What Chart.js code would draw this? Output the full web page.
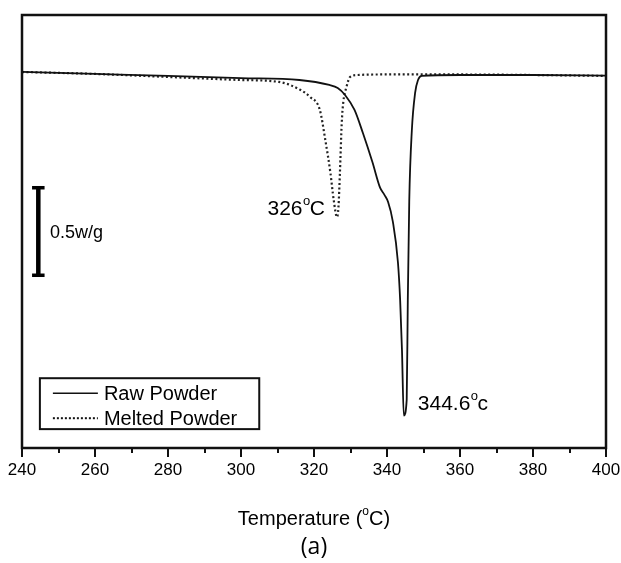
<!DOCTYPE html>
<html>
<head>
<meta charset="utf-8">
<script src="https://cdn.jsdelivr.net/npm/chart.js@4.4.1/dist/chart.umd.min.js"></script>
<style>
  html, body { margin: 0; padding: 0; background: #ffffff; }
  #wrap { width: 621px; height: 563px; position: relative; }
</style>
</head>
<body>
<div id="wrap"><canvas id="c" width="621" height="563"></canvas></div>
<script>
// ---- Data (heat flow in W/g relative to baseline, endo down) ----
const rawTemps = [240, 260, 280, 300, 316, 324.2, 326.5, 328.5, 331.1, 333.4, 336, 338.1, 339.3, 340.3, 341.6, 343.0, 343.6, 344.1, 344.6, 345.4, 345.7, 346.1, 346.8, 347.7, 348.5, 349.5, 360, 380, 400];
const rawHeat  = [0, -0.011, -0.022, -0.034, -0.045, -0.073, -0.09, -0.129, -0.213, -0.343, -0.506, -0.65, -0.69, -0.73, -0.84, -1.07, -1.28, -1.56, -1.93, -1.84, -1.28, -0.72, -0.33, -0.118, -0.045, -0.022, -0.017, -0.017, -0.02];

const meltTemps = [240, 260, 280, 300, 310.4, 316.2, 318.9, 321.6, 323.1, 324.5, 325.4, 326.3, 326.7, 327.1, 327.6, 328.0, 328.9, 329.9, 332, 340, 360, 380, 400];
const meltHeat  = [0, -0.011, -0.028, -0.045, -0.056, -0.1, -0.14, -0.213, -0.382, -0.567, -0.719, -0.815, -0.758, -0.567, -0.287, -0.174, -0.084, -0.028, -0.017, -0.014, -0.014, -0.017, -0.022];

const seriesNames = ["Raw Powder", "Melted Powder"];
const xTickValues = [240, 260, 280, 300, 320, 340, 360, 380, 400];
const xMinorValues = [250, 270, 290, 310, 330, 350, 370, 390];
const peakTemps = [326, 344.6];
const peakHeats = [-0.815, -1.93];
const peakLabels = ["326", "344.6"];
const peakUnits = ["C", "c"];
const scaleBarValue = 0.5;          // W/g
const scaleBarTop = -0.646;         // W/g position of bar top
const scaleBarTemp = 244.4;         // x position of bar
const scaleBarLabel = "0.5w/g";
const xTitle = "Temperature (";
const panelLabel = "(a)";

const toPts = (xs, ys) => xs.map((x, i) => ({ x: x, y: ys[i] }));

const FONT = "'Liberation Sans', Arial, Helvetica, sans-serif";

const decor = {
  id: 'decor',
  afterDraw(chart) {
    const ctx = chart.ctx;
    const ca = chart.chartArea;
    const xs = chart.scales.x, ys = chart.scales.y;
    ctx.save();
    // Frame
    ctx.strokeStyle = '#111';
    ctx.lineWidth = 2.5;
    ctx.strokeRect(ca.left, ca.top, ca.right - ca.left, ca.bottom - ca.top);
    // Tick marks (outward)
    ctx.lineWidth = 2;
    xTickValues.forEach(v => {
      const px = Math.round(xs.getPixelForValue(v));
      ctx.beginPath(); ctx.moveTo(px, ca.bottom); ctx.lineTo(px, ca.bottom + 9); ctx.stroke();
    });
    xMinorValues.forEach(v => {
      const px = Math.round(xs.getPixelForValue(v));
      ctx.beginPath(); ctx.moveTo(px, ca.bottom); ctx.lineTo(px, ca.bottom + 5); ctx.stroke();
    });

    // Scale bar
    const bx = xs.getPixelForValue(scaleBarTemp);
    const by1 = ys.getPixelForValue(scaleBarTop);
    const by2 = ys.getPixelForValue(scaleBarTop - scaleBarValue);
    ctx.fillStyle = '#000';
    ctx.fillRect(bx - 2, by1, 4.5, by2 - by1);
    ctx.fillRect(bx - 6, by1 - 1, 12.5, 3.5);
    ctx.fillRect(bx - 6, by2 - 2.5, 12.5, 3.5);
    ctx.fillStyle = '#000';
    ctx.font = "18px " + FONT;
    ctx.textBaseline = 'middle';
    ctx.textAlign = 'left';
    ctx.fillText(scaleBarLabel, bx + 12, (by1 + by2) / 2 + 2);

    // Peak annotations
    function degText(num, unit, x, y, align) {
      ctx.font = "21px " + FONT;
      const w1 = ctx.measureText(num).width;
      ctx.font = "13px " + FONT;
      const w2 = ctx.measureText("o").width;
      ctx.font = "21px " + FONT;
      const w3 = ctx.measureText(unit).width;
      const total = w1 + w2 + w3;
      let sx = align === 'right' ? x - total : x;
      ctx.textBaseline = 'middle';
      ctx.textAlign = 'left';
      ctx.fillText(num, sx, y);
      ctx.font = "13px " + FONT;
      ctx.fillText("o", sx + w1 + 0.5, y - 8);
      ctx.font = "21px " + FONT;
      ctx.fillText(unit, sx + w1 + w2, y);
    }
    ctx.fillStyle = '#000';
    const p1x = xs.getPixelForValue(peakTemps[0]);
    const p1y = ys.getPixelForValue(peakHeats[0]);
    degText(peakLabels[0], peakUnits[0], p1x - 11, p1y - 8, 'right');
    const p2x = xs.getPixelForValue(peakTemps[1]);
    const p2y = ys.getPixelForValue(peakHeats[1]);
    degText(peakLabels[1], peakUnits[1], p2x + 14, p2y - 11, 'left');

    // Legend box
    const lx = xs.getPixelForValue(244.9), lr = xs.getPixelForValue(305.0);
    const lt = ys.getPixelForValue(-1.72), lb = ys.getPixelForValue(-2.006);
    ctx.strokeStyle = '#111';
    ctx.lineWidth = 2;
    ctx.strokeRect(lx, lt, lr - lx, lb - lt);
    const rows = [lt + 15, lt + 40];
    ctx.lineWidth = 1.6;
    ctx.strokeStyle = '#111';
    ctx.beginPath(); ctx.moveTo(lx + 13, rows[0]); ctx.lineTo(lx + 58, rows[0]); ctx.stroke();
    ctx.setLineDash([2, 2]);
    ctx.lineWidth = 2;
    ctx.beginPath(); ctx.moveTo(lx + 13, rows[1]); ctx.lineTo(lx + 58, rows[1]); ctx.stroke();
    ctx.setLineDash([]);
    ctx.font = "20px " + FONT;
    ctx.textBaseline = 'middle';
    ctx.textAlign = 'left';
    ctx.fillStyle = '#000';
    ctx.fillText(seriesNames[0], lx + 64, rows[0] + 1);
    ctx.fillText(seriesNames[1], lx + 64, rows[1] + 1);

    // Axis title with degree superscript
    const cx = (ca.left + ca.right) / 2;
    ctx.font = "20px " + FONT;
    const t1 = ctx.measureText(xTitle).width;
    ctx.font = "12px " + FONT;
    const t2 = ctx.measureText("o").width;
    ctx.font = "20px " + FONT;
    const t3 = ctx.measureText("C)").width;
    let sx = cx - (t1 + t2 + t3) / 2;
    const ty = 519;
    ctx.fillText(xTitle, sx, ty);
    ctx.font = "12px " + FONT;
    ctx.fillText("o", sx + t1, ty - 7);
    ctx.font = "20px " + FONT;
    ctx.fillText("C)", sx + t1 + t2, ty);

    // Panel label
    ctx.font = "23px 'Open Sans', " + FONT;
    ctx.textAlign = 'center';
    ctx.fillText(panelLabel, cx, 547);
    ctx.restore();
  }
};

new Chart(document.getElementById('c'), {
  type: 'line',
  data: {
    datasets: [
      {
        label: seriesNames[0],
        data: toPts(rawTemps, rawHeat),
        borderColor: '#111',
        borderWidth: 1.8,
        pointRadius: 0,
        fill: false,
        cubicInterpolationMode: 'monotone'
      },
      {
        label: seriesNames[1],
        data: toPts(meltTemps, meltHeat),
        borderColor: '#222',
        borderWidth: 2.2,
        borderDash: [2, 2.5],
        pointRadius: 0,
        fill: false,
        cubicInterpolationMode: 'monotone'
      }
    ]
  },
  options: {
    responsive: false,
    animation: false,
    events: [],
    layout: { padding: { left: 22, right: 15, top: 15, bottom: 0 } },
    plugins: { legend: { display: false }, tooltip: { enabled: false }, title: { display: false } },
    scales: {
      x: {
        type: 'linear',
        min: 240, max: 400,
        grid: { display: false, drawTicks: false },
        border: { display: false },
        ticks: {
          stepSize: 20,
          padding: 12,
          color: '#000',
          font: { size: 17, family: FONT },
          maxRotation: 0,
          autoSkip: false
        },
        afterFit(scale) { scale.height = 115; scale.paddingLeft = 0; scale.paddingRight = 0; }
      },
      y: {
        type: 'linear',
        display: false,
        min: -2.112, max: 0.32
      }
    }
  },
  plugins: [decor]
});
</script>
</body>
</html>
